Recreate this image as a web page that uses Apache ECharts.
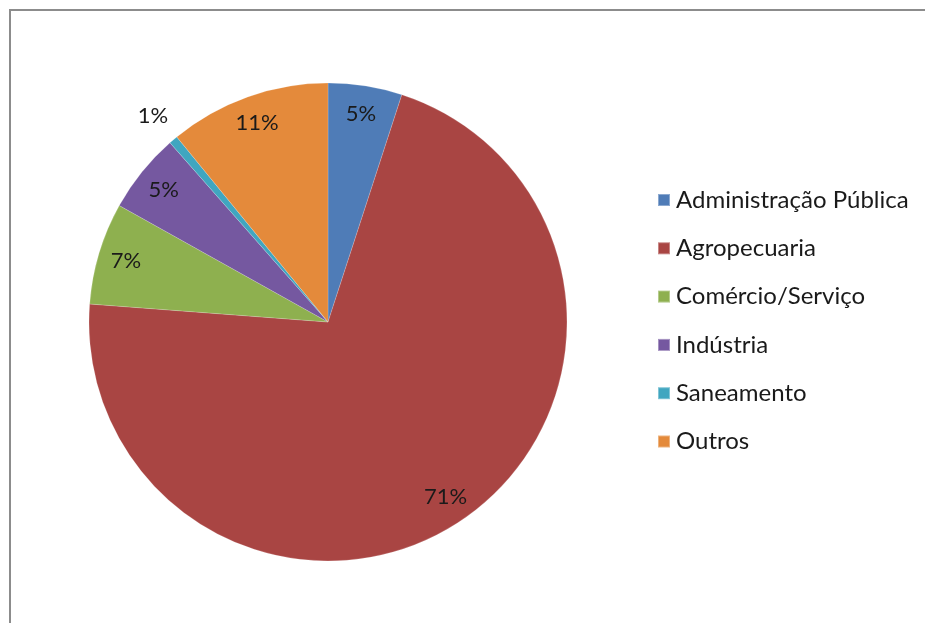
<!DOCTYPE html>
<html>
<head>
<meta charset="utf-8">
<style>
  html, body { margin: 0; padding: 0; background: #ffffff; }
  #chart { width: 925px; height: 623px; }
</style>
<script src="https://cdn.jsdelivr.net/npm/echarts@6/dist/echarts.min.js"></script>
</head>
<body>
<div id="chart"></div>
<script>
// Sector shares (percent of total)
const categories = ['Administração Pública', 'Agropecuaria', 'Comércio/Serviço', 'Indústria', 'Saneamento', 'Outros'];
const shares = [5.0, 71.2, 6.9, 5.4, 0.6, 10.9];
const colors = ['#4F7CB7', '#A94543', '#8EB04F', '#7558A0', '#40A6C0', '#E48A3B'];

const radiusPx = 239;
const center = [328, 322];

// Labels sit near the outer edge of each slice; very thin slices get theirs just outside.
const total = shares.reduce((a, b) => a + b, 0);
let acc = 0;
const pieData = categories.map((name, i) => {
  const mid = (acc + shares[i] / 2) / total * 2 * Math.PI;
  acc += shares[i];
  const k = shares[i] < 2 ? 1.12 : 0.87;
  const shift = (k - 0.5) * radiusPx;
  return {
    name: name,
    value: shares[i],
    itemStyle: { color: colors[i] },
    label: { offset: [shift * Math.sin(mid), -shift * Math.cos(mid)] }
  };
});

const chart = echarts.init(document.getElementById('chart'), null, { renderer: 'canvas' });
chart.setOption({
  backgroundColor: '#ffffff',
  animation: false,
  graphic: [{
    type: 'polyline',
    shape: { points: [[10, 623], [10, 10], [925, 10]] },
    style: { stroke: '#8c8c8c', lineWidth: 2, fill: null }
  }],
  legend: {
    orient: 'vertical',
    left: 652,
    top: 183,
    itemWidth: 12,
    itemHeight: 12,
    itemGap: 24.3,
    icon: 'rect',
    data: categories,
    textStyle: {
      fontFamily: 'Lato',
      fontSize: 24,
      lineHeight: 24,
      color: '#1a1a1a',
      padding: [0, 0, 0, 1]
    }
  },
  series: [{
    type: 'pie',
    center: center,
    radius: radiusPx,
    startAngle: 90,
    clockwise: true,
    avoidLabelOverlap: false,
    data: pieData,
    itemStyle: { borderColor: 'rgba(255,255,255,0.35)', borderWidth: 0.5 },
    label: {
      show: true,
      position: 'inside',
      formatter: p => Math.round(p.value) + '%',
      fontFamily: 'Lato',
      fontSize: 22,
      color: '#1a1a1a'
    },
    labelLine: { show: false },
    emphasis: { disabled: true }
  }]
});
</script>
</body>
</html>
